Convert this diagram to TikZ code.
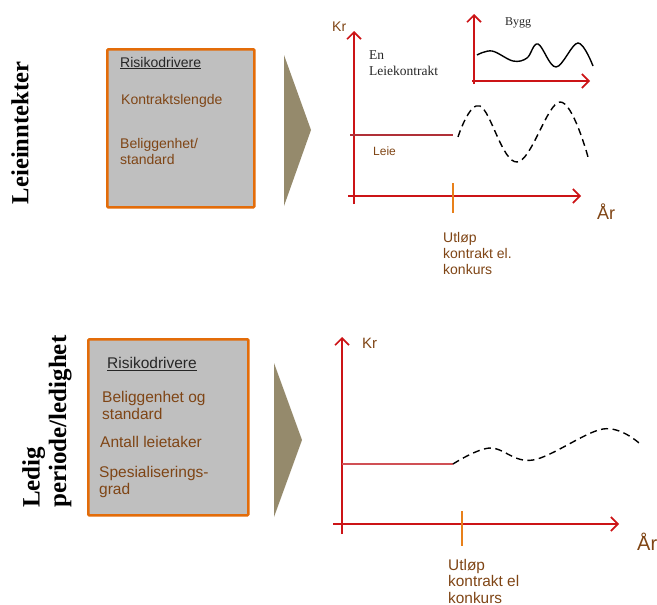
\documentclass[tikz,border=0pt]{standalone}
\usepackage{fontspec}
\setmainfont{Liberation Sans}
\newfontfamily\serifx{Liberation Serif}
\usetikzlibrary{arrows.meta}
\definecolor{axisred}{HTML}{CC1417}
\definecolor{txtbrown}{HTML}{7F4515}
\definecolor{boxorange}{HTML}{E36C09}
\definecolor{boxgray}{HTML}{BFBFBF}
\definecolor{tan}{HTML}{958A6C}
\definecolor{tickorange}{HTML}{E8801A}
\definecolor{leiered}{HTML}{B03038}
\definecolor{leiered2}{HTML}{D05055}
\tikzset{
  axisline/.style={draw=axisred, line width=1.6pt, -{Straight Barb[length=7pt,width=14pt,line width=1.6pt]}},
  riskbox/.style={draw=boxorange, fill=boxgray, line width=2.6pt, rounded corners=1pt},
  chevron/.style={fill=tan, draw=none},
  brown/.style={text=txtbrown, inner sep=0pt, anchor=west, align=left},
  blacktxt/.style={text=black!85, inner sep=0pt, anchor=west, align=left},
  sidelabel/.style={inner sep=0pt, rotate=90, align=left},
  tickline/.style={draw=tickorange, line width=1.6pt},
  dashwave/.style={draw=black, line width=1.4pt, dash pattern=on 7pt off 4.5pt},
  solidwave/.style={draw=black, line width=1.4pt},
}
\begin{document}
\begin{tikzpicture}[x=1pt,y=-1pt]
\useasboundingbox (0,0) rectangle (657,605);

% ===== Top section =====
\node[sidelabel, font=\serifx\bfseries\fontsize{24.6}{27}\selectfont] (lblA) at (20,133) {Leieinntekter};
\node[riskbox, minimum width=147pt, minimum height=158pt, anchor=north west] (boxA) at (106,48) {};
\node[blacktxt, font=\fontsize{14}{16}\selectfont] (rA) at (120,63) {\underline{Risikodrivere}};
\node[brown, font=\fontsize{14}{16}\selectfont] (kA) at (121,101) {Kontraktslengde};
\node[brown, font=\fontsize{14}{16}\selectfont] (bA) at (120,151) {Beliggenhet/\\standard};
\path[chevron] (284,55) -- (311,130) -- (284,206) -- cycle;

% chart A
\coordinate (yA0) at (354,204);
\coordinate (yA1) at (354,31);
\coordinate (xA0) at (348,196);
\coordinate (xA1) at (581,196);
\draw[axisline] (yA0) -- (yA1);
\draw[axisline] (xA0) -- (xA1);
\node[brown, font=\fontsize{14}{16}\selectfont] (krA) at (332,27) {Kr};
\node[blacktxt, font=\serifx\fontsize{13.5}{16}\selectfont] (enA) at (369,63) {En\\Leiekontrakt};
\coordinate (leA0) at (350,135);
\coordinate (leA1) at (453,135);
\draw[leiered, line width=1.1pt] (leA0) -- (leA1);
\node[brown, font=\fontsize{12}{14}\selectfont] (leieA) at (373,151) {Leie};
\coordinate (tkA0) at (453,183);
\coordinate (tkA1) at (453,213);
\draw[tickline] (tkA0) -- (tkA1);
\node[brown, font=\fontsize{18}{20}\selectfont] (arA) at (597,212) {År};
\node[brown, font=\fontsize{14}{16}\selectfont] (utA) at (443,253) {Utløp\\kontrakt el.\\konkurs};
\draw[dashwave] plot[smooth, tension=0.65] coordinates {(458,137) (480,106) (517,162) (560,102) (588,157)};

% inset
\coordinate (yI0) at (474,84);
\coordinate (yI1) at (474,14);
\coordinate (xI0) at (472,81);
\coordinate (xI1) at (590,81);
\draw[axisline] (yI0) -- (yI1);
\draw[axisline] (xI0) -- (xI1);
\node[blacktxt, font=\serifx\fontsize{12}{14}\selectfont] (bygg) at (505,23) {Bygg};
\draw[solidwave] plot[smooth, tension=0.6] coordinates {(477,55) (492,51) (513,61) (527,58) (538,44) (556,67) (578,43) (593,66)};

% ===== Bottom section =====
\node[sidelabel, anchor=west, font=\serifx\bfseries\fontsize{25}{26.5}\selectfont] (lblB) at (47,508) {Ledig\\periode/ledighet};
\node[riskbox, minimum width=160pt, minimum height=176pt, anchor=north west] (boxB) at (87,338) {};
\node[blacktxt, font=\fontsize{15.5}{17}\selectfont] (rB) at (107,364) {\underline{Risikodrivere}};
\node[brown, font=\fontsize{15.5}{17}\selectfont] (bB) at (102,405.5) {Beliggenhet og\\standard};
\node[brown, font=\fontsize{15.5}{17}\selectfont] (aB) at (100,442) {Antall leietaker};
\node[brown, font=\fontsize{15.5}{17}\selectfont] (sB) at (99,481.5) {Spesialiserings-\\grad};
\path[chevron] (274,363) -- (302,440) -- (274,517) -- cycle;

% chart B
\coordinate (yB0) at (342,534);
\coordinate (yB1) at (342,337);
\coordinate (xB0) at (333,524);
\coordinate (xB1) at (619,524);
\draw[axisline] (yB0) -- (yB1);
\draw[axisline] (xB0) -- (xB1);
\node[brown, font=\fontsize{15}{17}\selectfont] (krB) at (362,343) {Kr};
\coordinate (leB0) at (342,464);
\coordinate (leB1) at (453,464);
\draw[leiered2, line width=1.3pt] (leB0) -- (leB1);
\coordinate (tkB0) at (462,511);
\coordinate (tkB1) at (462,546);
\draw[tickline] (tkB0) -- (tkB1);
\node[brown, font=\fontsize{20}{22}\selectfont] (arB) at (637,542) {År};
\node[brown, font=\fontsize{15.4}{16.5}\selectfont] (utB) at (448,581) {Utløp\\kontrakt el\\konkurs};
\draw[dashwave] plot[smooth, tension=0.6] coordinates {(453,464) (490,448) (533,460) (603,429) (639,443)};
\end{tikzpicture}
\end{document}
